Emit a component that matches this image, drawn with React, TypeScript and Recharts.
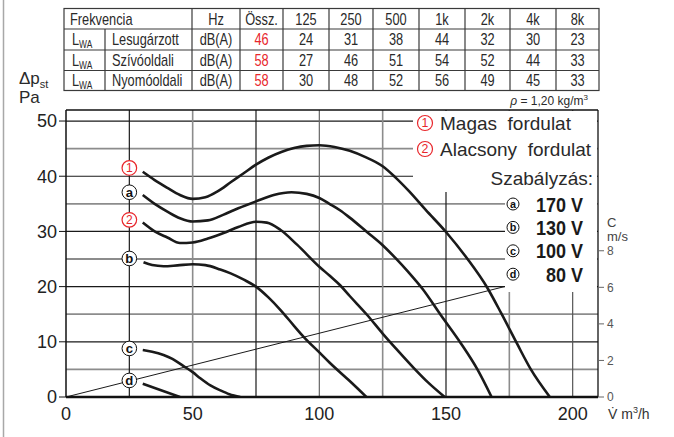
import React from 'react';
import { ComposedChart, Line, XAxis, YAxis, ReferenceLine, ReferenceDot } from 'recharts';

// Fan curves: q = air flow [m³/h], p = static pressure [Pa]
const magasFordulat = [
  { q: 30.3, p: 40.8 }, { q: 35, p: 39.3 }, { q: 40, p: 37.9 }, { q: 45, p: 36.6 }, { q: 50, p: 35.9 },
  { q: 55, p: 36.2 }, { q: 60, p: 37.3 }, { q: 65, p: 38.9 }, { q: 70, p: 40.5 }, { q: 75, p: 42.1 },
  { q: 80, p: 43.4 }, { q: 85, p: 44.4 }, { q: 90, p: 45.1 }, { q: 95, p: 45.5 }, { q: 100, p: 45.6 },
  { q: 106, p: 45.3 }, { q: 112, p: 44.6 }, { q: 118, p: 43.5 }, { q: 125, p: 41.8 }, { q: 130, p: 39.8 },
  { q: 135.4, p: 37.3 }, { q: 142, p: 33.9 }, { q: 150, p: 29.9 }, { q: 158.5, p: 25.0 }, { q: 166.3, p: 19.8 },
  { q: 172, p: 15.0 }, { q: 178, p: 9.7 }, { q: 183.5, p: 5.0 }, { q: 191, p: 0 },
];

const szabalyzas170 = [
  { q: 30.3, p: 36.6 }, { q: 35, p: 35.0 }, { q: 40, p: 33.6 }, { q: 45, p: 32.4 }, { q: 50, p: 31.8 },
  { q: 56, p: 32.0 }, { q: 62, p: 33.0 }, { q: 68, p: 34.2 }, { q: 75, p: 35.45 }, { q: 82, p: 36.6 },
  { q: 89, p: 37.1 }, { q: 95, p: 36.8 }, { q: 100, p: 36.05 }, { q: 104, p: 35.0 }, { q: 108.3, p: 33.8 },
  { q: 112, p: 32.5 }, { q: 118.8, p: 29.9 }, { q: 125, p: 27.5 }, { q: 130, p: 25.2 }, { q: 135, p: 22.7 },
  { q: 140.7, p: 19.6 }, { q: 148, p: 14.8 }, { q: 155.9, p: 9.7 }, { q: 162.4, p: 5.0 }, { q: 168, p: 0 },
];

const alacsonyFordulat = [
  { q: 30.3, p: 31.6 }, { q: 35, p: 30.0 }, { q: 40, p: 28.9 }, { q: 45, p: 27.9 }, { q: 50, p: 28.0 },
  { q: 56, p: 28.7 }, { q: 62.2, p: 29.7 }, { q: 68, p: 30.8 }, { q: 75, p: 31.75 }, { q: 79.3, p: 31.6 },
  { q: 84.6, p: 30.3 }, { q: 91.2, p: 27.6 }, { q: 100, p: 23.6 }, { q: 104, p: 22.0 }, { q: 108.3, p: 20.2 },
  { q: 112, p: 18.3 }, { q: 118.8, p: 14.9 }, { q: 125, p: 11.5 }, { q: 131, p: 8.4 }, { q: 137.4, p: 5.2 },
  { q: 143, p: 2.6 }, { q: 149.5, p: 0 },
];

const szabalyzas130 = [
  { q: 30.6, p: 24.4 }, { q: 34, p: 23.9 }, { q: 38.5, p: 23.7 }, { q: 44, p: 23.85 }, { q: 50, p: 24.05 },
  { q: 55, p: 23.9 }, { q: 60.9, p: 23.1 }, { q: 65, p: 22.4 }, { q: 70, p: 21.3 }, { q: 75, p: 20.0 },
  { q: 80, p: 18.0 }, { q: 84.6, p: 15.8 }, { q: 90, p: 12.9 }, { q: 93.8, p: 10.9 }, { q: 100.4, p: 7.9 },
  { q: 104.1, p: 6.2 }, { q: 112.1, p: 2.85 }, { q: 118.6, p: 0 },
];

const szabalyzas100 = [
  { q: 30.3, p: 8.5 }, { q: 34, p: 8.2 }, { q: 38.5, p: 7.6 }, { q: 42, p: 6.9 }, { q: 46.4, p: 5.6 },
  { q: 50, p: 4.5 }, { q: 53, p: 3.4 }, { q: 57, p: 2.1 }, { q: 60.9, p: 1.2 }, { q: 64.5, p: 0.5 },
  { q: 68.8, p: 0 },
];

const szabalyzas80 = [{ q: 30.3, p: 2.4 }, { q: 45, p: 0 }];

// Duct velocity reference line
const sebessegVonal = [{ q: 0, p: 0 }, { q: 173.5, p: 20.05 }];

// Axis ticks
const flowTicks = [0, 50, 100, 150, 200];
const pressureTicks = [0, 10, 20, 30, 40, 50];
const velocityTicks = [0, 2, 4, 6, 8];

// Grid lines: [value, colour]
const pressureGrid: [number, string][] = [
  [5, '#8c8c8c'], [10, '#1a1a1a'], [15, '#8c8c8c'], [20, '#1a1a1a'], [25, '#8c8c8c'],
  [30, '#1a1a1a'], [35, '#8c8c8c'], [40, '#1a1a1a'], [45, '#8c8c8c'], [50, '#1a1a1a'],
];
const flowGrid: [number, string][] = [
  [25, '#1a1a1a'], [50, '#8c8c8c'], [75, '#1a1a1a'], [100, '#666'], [125, '#8c8c8c'],
  [150, '#1a1a1a'], [175, '#8c8c8c'], [200, '#555'],
];

// Curve markers on the 25 m³/h line
const curveMarks = [
  { id: '1', p: 41.5, red: true },
  { id: 'a', p: 37.1, red: false },
  { id: '2', p: 32.1, red: true },
  { id: 'b', p: 25.1, red: false },
  { id: 'c', p: 8.8, red: false },
  { id: 'd', p: 3.0, red: false },
];
const markFlow = 25;

// Noise table
const freqBands = ['125', '250', '500', '1k', '2k', '4k', '8k'];
const rowNames = ['Lesugárzott', 'Szívóoldali', 'Nyomóoldali'];
const rowTotals = [46, 58, 58];
const lesugarzott = [24, 31, 38, 44, 32, 30, 23];
const szivooldali = [27, 46, 51, 54, 52, 44, 33];
const nyomooldali = [30, 48, 52, 56, 49, 45, 33];
const tableRows = [lesugarzott, szivooldali, nyomooldali];

// Legend
const speedLegend = [
  { id: '1', text: 'Magas  fordulat' },
  { id: '2', text: 'Alacsony  fordulat' },
];
const controlLegend = [
  { id: 'a', volts: '170 V' },
  { id: 'b', volts: '130 V' },
  { id: 'c', volts: '100 V' },
  { id: 'd', volts: '80 V' },
];

const FONT = '"Liberation Sans", Arial, Helvetica, sans-serif';
const RED = '#e8262b';
const INK = '#2a2a2a';

// Horizontally condensed text (condensed grotesque look)
const Narrow = ({
  x, y, sx = 0.8, anchor = 'start', fill, size, weight, children,
}: {
  x: number; y: number; sx?: number; anchor?: 'start' | 'middle' | 'end'; fill?: string; size?: number; weight?: number; children: React.ReactNode;
}) => (
  <text
    transform={`translate(${x} ${y}) scale(${sx} 1)`}
    textAnchor={anchor}
    fill={fill}
    fontSize={size}
    fontWeight={weight}
    fontFamily={FONT}
  >
    {children}
  </text>
);

const CircleMark = ({ cx, cy, id, red, r }: { cx: number; cy: number; id: string; red: boolean; r: number }) => (
  <g>
    <circle cx={cx} cy={cy} r={r} fill="#fff" stroke={red ? RED : '#111'} strokeWidth={red ? 1.2 : 1} />
    <text
      x={cx}
      y={cy}
      dy="0.36em"
      textAnchor="middle"
      fontFamily={FONT}
      fontWeight={red ? 400 : 700}
      fontSize={red ? r * 1.65 : r * 1.8}
      fill={red ? RED : '#111'}
    >
      {id}
    </text>
  </g>
);

const colX = [64, 105, 192, 240, 283, 329, 373, 419, 465, 510, 556, 599];
const rowY = [8.5, 29, 50, 70.5, 90.5];

const NoiseTable = () => {
  const lineColor = '#3a3a3a';
  const fs = 16;
  const mid = (i: number) => (colX[i] + colX[i + 1]) / 2;
  const base = (r: number) => (rowY[r] + rowY[r + 1]) / 2 + 5.8;
  return (
    <g fill={INK} fontSize={fs}>
      <rect x={colX[0]} y={rowY[0]} width={colX[11] - colX[0]} height={rowY[4] - rowY[0]} fill="none" stroke={lineColor} strokeWidth={1.2} />
      {rowY.slice(1, 4).map((y) => (
        <line key={y} x1={colX[0]} x2={colX[11]} y1={y} y2={y} stroke={lineColor} strokeWidth={1.2} />
      ))}
      <line x1={colX[1]} x2={colX[1]} y1={rowY[1]} y2={rowY[4]} stroke={lineColor} strokeWidth={1.2} />
      {colX.slice(2, 11).map((x) => (
        <line key={x} x1={x} x2={x} y1={rowY[0]} y2={rowY[4]} stroke={lineColor} strokeWidth={1.2} />
      ))}
      <Narrow x={70} y={base(0)} size={fs} fill={INK}>Frekvencia</Narrow>
      <Narrow x={mid(2)} y={base(0)} anchor="middle" size={fs} fill={INK}>Hz</Narrow>
      <Narrow x={mid(3)} y={base(0)} anchor="middle" size={fs} fill={INK}>Össz.</Narrow>
      {freqBands.map((f, i) => (
        <Narrow key={f} x={mid(4 + i)} y={base(0)} anchor="middle" size={fs} fill={INK}>{f}</Narrow>
      ))}
      {rowNames.map((name, r) => (
        <g key={name}>
          <Narrow x={72} y={base(r + 1)} size={fs} fill={INK}>
            L<tspan fontSize={10.5} dy={3}>WA</tspan>
          </Narrow>
          <Narrow x={112} y={base(r + 1)} size={fs} fill={INK}>{name}</Narrow>
          <Narrow x={mid(2)} y={base(r + 1)} anchor="middle" size={fs} fill={INK}>dB(A)</Narrow>
          <Narrow x={mid(3)} y={base(r + 1)} anchor="middle" size={fs} fill={RED}>{rowTotals[r]}</Narrow>
          {tableRows[r].map((v, i) => (
            <Narrow key={i} x={mid(4 + i)} y={base(r + 1)} anchor="middle" size={fs} fill={INK}>{v}</Narrow>
          ))}
        </g>
      ))}
    </g>
  );
};

const Overlay = () => (
  <svg width={674} height={437} style={{ position: 'absolute', left: 0, top: 0, pointerEvents: 'none' }}>
    <line x1={3.5} x2={3.5} y1={0} y2={437} stroke="#a8a8a8" strokeWidth={1.5} />
    <NoiseTable />
    <text x={588} y={105} textAnchor="end" fontFamily={FONT} fontSize={12} fill={INK}>
      <tspan fontStyle="italic">ρ</tspan> = 1,20 kg/m<tspan fontSize={8} dy={-5}>3</tspan>
    </text>
    {/* axis captions */}
    <text x={19} y={84} fontFamily={FONT} fontSize={17} fill={INK}>
      Δp<tspan fontSize={11} dy={4}>st</tspan>
    </text>
    <text x={19} y={103} fontFamily={FONT} fontSize={17} fill={INK}>Pa</text>
    <text x={607} y={227} fontFamily={FONT} fontSize={13} fill="#444">C</text>
    <text x={607} y={241} fontFamily={FONT} fontSize={13} fill="#444">m/s</text>
    <text x={608} y={419} fontFamily={FONT} fontSize={14} fill="#333">
      V̇ m<tspan fontSize={9} dy={-6}>3</tspan><tspan dy={6}>/h</tspan>
    </text>
    {/* legend panels */}
    <rect x={413} y={111} width={184} height={81} fill="#fff" />
    <rect x={505} y={191} width={92} height={101} fill="#fff" />
    {speedLegend.map((s, i) => (
      <g key={s.id}>
        <CircleMark cx={425} cy={123 + i * 26} id={s.id} red r={7.5} />
        <text x={440} y={130 + i * 26} fontFamily={FONT} fontSize={19} fill={INK} style={{ whiteSpace: 'pre' }}>
          {s.text}
        </text>
      </g>
    ))}
    <text x={593} y={185} textAnchor="end" fontFamily={FONT} fontSize={19} fill={INK}>Szabályzás:</text>
    {controlLegend.map((c, i) => (
      <g key={c.id}>
        <CircleMark cx={513} cy={204 + i * 23.4} id={c.id} red={false} r={6} />
        <Narrow x={583} y={211.5 + i * 23.4} sx={0.9} anchor="end" size={20} weight={700} fill="#1a1a1a">
          {c.volts}
        </Narrow>
      </g>
    ))}
  </svg>
);

const curveStyle = { stroke: '#1a1a1a', strokeWidth: 2.6, dot: false, isAnimationActive: false, type: 'monotone' as const };

export default function App() {
  return (
    <div style={{ position: 'absolute', left: 0, top: 0, width: 674, height: 437, background: '#fff' }}>
      <ComposedChart width={674} height={437} margin={{ top: 110, right: 36, bottom: 10, left: 6 }}>
        <XAxis
          type="number"
          dataKey="q"
          domain={[0, 210]}
          ticks={flowTicks}
          allowDataOverflow
          height={30}
          tickLine={false}
          tickSize={0}
          tickMargin={10}
          axisLine={{ stroke: '#111', strokeWidth: 2.5 }}
          tick={{ fontSize: 18, fill: '#222', fontFamily: FONT }}
        />
        <YAxis
          yAxisId="left"
          type="number"
          domain={[0, 52]}
          ticks={pressureTicks}
          allowDataOverflow
          width={60}
          tickSize={7}
          tickMargin={2}
          tickLine={{ stroke: '#111' }}
          axisLine={{ stroke: '#111', strokeWidth: 1.5 }}
          tick={{ fontSize: 18, fill: '#222', fontFamily: FONT }}
        />
        <YAxis
          yAxisId="right"
          orientation="right"
          type="number"
          domain={[0, 15.7]}
          ticks={velocityTicks}
          allowDataOverflow
          width={40}
          tickSize={6}
          tickMargin={3}
          axisLine={false}
          tickLine={{ stroke: '#666' }}
          tick={{ fontSize: 12, fill: '#555', fontFamily: FONT }}
        />
        {pressureGrid.map(([v, c]) => (
          <ReferenceLine key={`h${v}`} yAxisId="left" y={v} stroke={c} strokeWidth={c === '#8c8c8c' ? 1.8 : 1.2} />
        ))}
        {flowGrid.map(([v, c]) => (
          <ReferenceLine key={`v${v}`} yAxisId="left" x={v} stroke={c} strokeWidth={c === '#8c8c8c' ? 1.6 : 1.2} />
        ))}
        <ReferenceLine yAxisId="left" y={52} stroke="#111" strokeWidth={1.3} />
        <ReferenceLine yAxisId="left" x={210} stroke="#111" strokeWidth={1.3} />
        <Line yAxisId="left" data={sebessegVonal} dataKey="p" type="linear" stroke="#1a1a1a" strokeWidth={1} dot={false} isAnimationActive={false} />
        <Line yAxisId="left" data={magasFordulat} dataKey="p" {...curveStyle} />
        <Line yAxisId="left" data={szabalyzas170} dataKey="p" {...curveStyle} />
        <Line yAxisId="left" data={alacsonyFordulat} dataKey="p" {...curveStyle} />
        <Line yAxisId="left" data={szabalyzas130} dataKey="p" {...curveStyle} />
        <Line yAxisId="left" data={szabalyzas100} dataKey="p" {...curveStyle} />
        <Line yAxisId="left" data={szabalyzas80} dataKey="p" {...curveStyle} type="linear" />
        {curveMarks.map((m) => (
          <ReferenceDot
            key={m.id}
            yAxisId="left"
            x={markFlow}
            y={m.p}
            r={7}
            shape={(props: any) => <CircleMark cx={props.cx} cy={props.cy} id={m.id} red={m.red} r={7.3} />}
          />
        ))}
      </ComposedChart>
      <Overlay />
    </div>
  );
}
